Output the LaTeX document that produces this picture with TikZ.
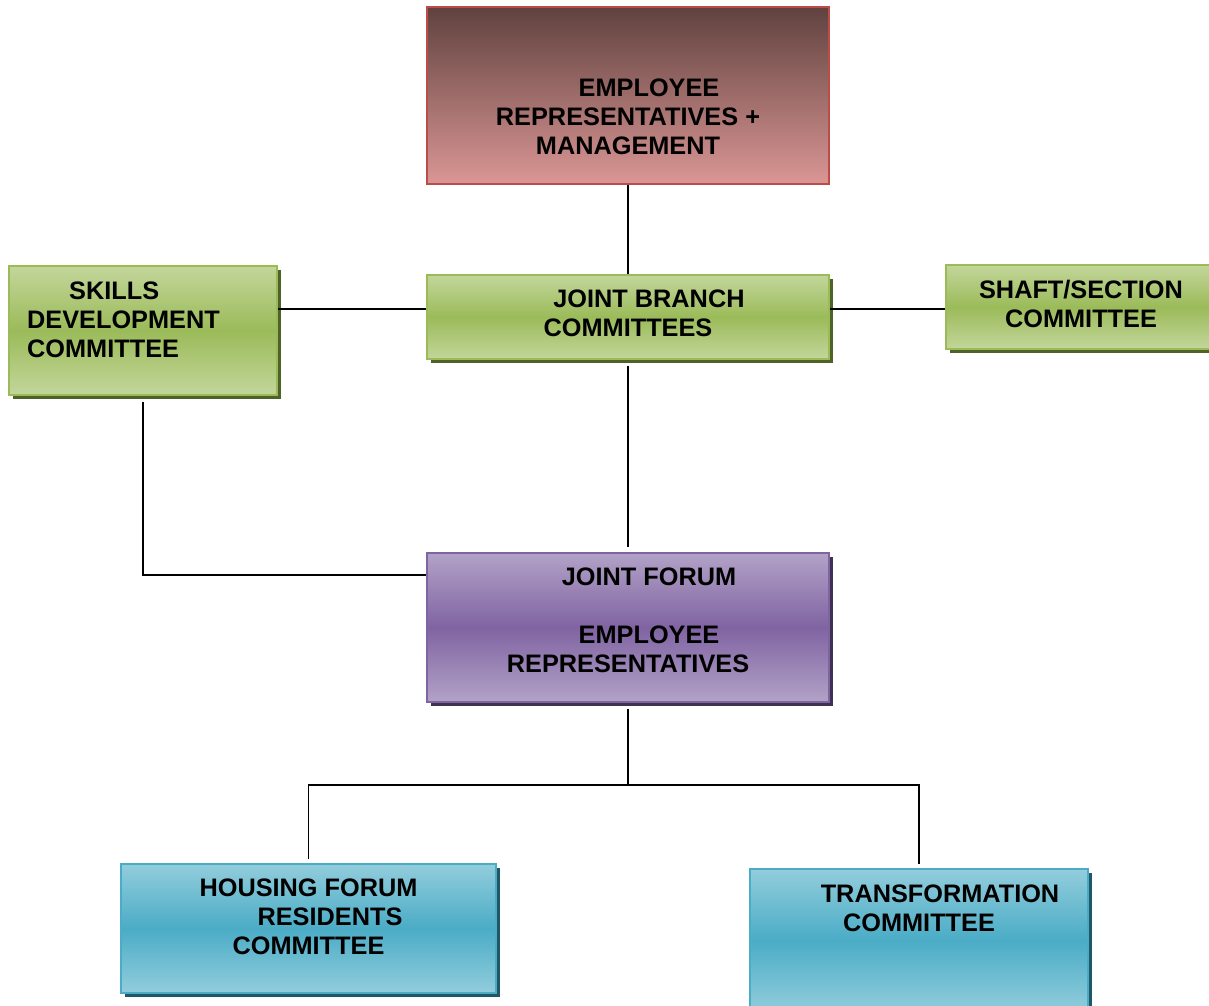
\documentclass[tikz,border=0pt]{standalone}
\usepackage{fontspec}
\setmainfont{Liberation Sans}
\usetikzlibrary{shadows}

\definecolor{redtop}{RGB}{96,66,63}
\definecolor{redbot}{RGB}{218,150,148}
\definecolor{rededge}{RGB}{186,76,73}
\definecolor{grnlight}{RGB}{195,214,155}
\definecolor{grnmid}{RGB}{155,187,89}
\definecolor{grnshadow}{RGB}{79,98,40}
\definecolor{purlight}{RGB}{178,162,199}
\definecolor{purmid}{RGB}{128,100,162}
\definecolor{purshadow}{RGB}{63,49,81}
\definecolor{bluelight}{RGB}{146,205,220}
\definecolor{bluemid}{RGB}{75,172,198}
\definecolor{blueshadow}{RGB}{32,88,103}

\begin{document}
\begin{tikzpicture}[x=1pt,y=-1pt,
    box/.style={rectangle, line width=1.2pt, inner sep=0pt},
    boxshadow/.style={drop shadow={shadow xshift=4pt, shadow yshift=-4pt, fill=#1, opacity=1}},
    redbox/.style={box, draw=rededge, top color=redtop, bottom color=redbot},
    greenbox/.style={box, draw=grnmid, top color=grnlight, bottom color=grnlight, middle color=grnmid, boxshadow=grnshadow},
    purplebox/.style={box, draw=purmid, top color=purlight, bottom color=purlight, middle color=purmid, boxshadow=purshadow},
    bluebox/.style={box, draw=bluemid, top color=bluelight, bottom color=bluelight, middle color=bluemid, boxshadow=blueshadow},
    txt/.style={font=\fontsize{25.3}{29}\selectfont\bfseries, align=center, inner sep=0pt},
    link/.style={line width=1.3pt}]
  \useasboundingbox (0,0) rectangle (1209,1005);

  % boxes
  \node[redbox, minimum width=402, minimum height=177] (mgmt) at (628,95.5) {};
  \node[greenbox, minimum width=402, minimum height=84] (branch) at (628,317) {};
  \node[greenbox, minimum width=268, minimum height=129] (skills) at (143,330.5) {};
  \node[greenbox, minimum width=294, minimum height=84] (shaft) at (1093,307) {};
  \node[purplebox, minimum width=402, minimum height=149] (forum) at (628,627.5) {};
  \node[bluebox, minimum width=375, minimum height=129] (housing) at (308.5,928.5) {};
  \node[bluebox, minimum width=338, minimum height=143] (transform) at (919,940.5) {};

  % texts
  \node[txt] (mgmttxt) at (628,117) {\hspace*{42pt}EMPLOYEE\\REPRESENTATIVES +\\MANAGEMENT};
  \node[txt] (branchtxt) at (628,313.5) {\hspace*{42pt}JOINT BRANCH\\COMMITTEES};
  \node[txt, align=left, anchor=west] (skillstxt) at (27,320) {\hspace*{42pt}SKILLS\\DEVELOPMENT\\COMMITTEE};
  \node[txt] (shafttxt) at (1081,303.5) {SHAFT/SECTION\\COMMITTEE};
  \node[txt] (forumtxt) at (628,620.5) {\hspace*{42pt}JOINT FORUM\\[29pt]\hspace*{42pt}EMPLOYEE\\REPRESENTATIVES};
  \node[txt] (housingtxt) at (308.5,917) {HOUSING FORUM\\\hspace*{43pt}RESIDENTS\\COMMITTEE};
  \node[txt] (transformtxt) at (919,908) {\hspace*{42pt}TRANSFORMATION\\COMMITTEE};

  % connectors
  \coordinate (lvl) at (0,309);
  \coordinate (fl) at (0,575);
  \coordinate (split) at (0,785);
  \draw[link] (mgmt.south) -- (branch.north);
  \draw[link] (skills.east |- lvl) -- (branch.west |- lvl);
  \draw[link] (branch.east |- lvl) -- (shaft.west |- lvl);
  \draw[link] ([yshift=-6pt]branch.south) -- ([yshift=5pt]forum.north);
  \draw[link] ([yshift=-6pt]skills.south) |- (forum.west |- fl);
  \draw[link] ([yshift=-6pt]forum.south) -- (forum.south |- split);
  \draw[link] ([yshift=4pt]housing.north) |- (forum.south |- split) -| ([yshift=4pt]transform.north);
\end{tikzpicture}
\end{document}
